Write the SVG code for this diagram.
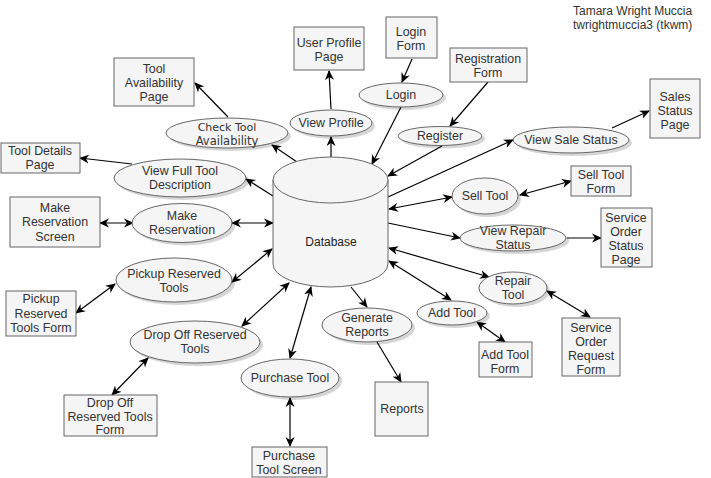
<svg xmlns="http://www.w3.org/2000/svg" width="711" height="478" viewBox="0 0 711 478">
<defs>
<marker id="arr" viewBox="0 0 10 10" refX="9" refY="5" markerWidth="10" markerHeight="10" markerUnits="userSpaceOnUse" orient="auto-start-reverse">
<path d="M0,0.5 L10,5 L0,9.5 L3,5 z" fill="#000"/>
</marker>
</defs>
<style>
.bg{fill:#fff}
.r{fill:#f5f5f5;stroke:#666;stroke-width:1}
.e{fill:#f5f5f5;stroke:#666;stroke-width:1}
.sh{fill:#000;opacity:0.16}
text{font-family:"Liberation Sans",Arial,sans-serif;font-size:12.4px;fill:#333;text-anchor:middle}
.c line{stroke:#000;stroke-width:1.2;marker-end:url(#arr)}
.c line.d{marker-start:url(#arr)}
.t{text-anchor:start;fill:#333;font-size:12px}
</style>
<rect class="bg" x="0" y="0" width="711" height="478"/>

<g id="title">
<text class="t" x="573" y="15">Tamara Wright Muccia</text>
<text class="t" x="573" y="29">twrightmuccia3 (tkwm)</text>
</g>

<g class="c" id="connectors">
<line x1="228" y1="117" x2="195" y2="83"/>
<line x1="132" y1="164" x2="80" y2="158"/>
<line x1="297" y1="162" x2="272" y2="145"/>
<line x1="331" y1="157" x2="331" y2="137"/>
<line x1="331" y1="109" x2="329" y2="71"/>
<line x1="412" y1="59" x2="402" y2="82"/>
<line x1="401" y1="107" x2="372" y2="164"/>
<line x1="488" y1="82" x2="450" y2="126"/>
<line x1="442" y1="146" x2="388" y2="176"/>
<line x1="388" y1="197" x2="513" y2="140"/>
<line x1="612" y1="128" x2="649" y2="111"/>
<line class="d" x1="389" y1="209" x2="452" y2="197"/>
<line class="d" x1="520" y1="195" x2="571" y2="181"/>
<line x1="388" y1="223" x2="460" y2="238"/>
<line x1="567" y1="238" x2="601" y2="238"/>
<line class="d" x1="389" y1="248" x2="489" y2="277"/>
<line class="d" x1="547" y1="291" x2="590" y2="317"/>
<line class="d" x1="389" y1="261" x2="451" y2="300"/>
<line class="d" x1="477" y1="322" x2="505" y2="342"/>
<line x1="351" y1="287" x2="367" y2="307"/>
<line x1="377" y1="342" x2="401" y2="382"/>
<line class="d" x1="290" y1="358" x2="311" y2="287"/>
<line class="d" x1="290" y1="398" x2="290" y2="446"/>
<line class="d" x1="242" y1="326" x2="289" y2="283"/>
<line class="d" x1="148" y1="358" x2="112" y2="395"/>
<line class="d" x1="232" y1="282" x2="272" y2="249"/>
<line class="d" x1="115" y1="284" x2="76" y2="313"/>
<line class="d" x1="232" y1="223" x2="273" y2="223"/>
<line class="d" x1="100" y1="223" x2="133" y2="223"/>
<line x1="273" y1="196" x2="246" y2="179"/>
</g>

<g id="database">
<path d="M273,180 L273,264 A57.5,23 0 0 0 388,264 L388,180" class="e"/>
<ellipse class="e" cx="330.5" cy="180" rx="57.5" ry="23"/>
<text x="331" y="246" style="fill:#222;font-size:12px">Database</text>
</g>

<g id="tool-availability-page"><rect class="r" x="114" y="58" width="80" height="48"/><text x="154" y="73">Tool</text><text x="154" y="87">Availability</text><text x="154" y="101">Page</text></g>
<g id="tool-details-page"><rect class="r" x="1" y="143" width="79" height="30"/><text x="40" y="155">Tool Details</text><text x="40" y="169">Page</text></g>
<g id="user-profile-page"><rect class="r" x="294" y="27" width="70" height="43"/><text x="329" y="47">User Profile</text><text x="329" y="61">Page</text></g>
<g id="login-form"><rect class="r" x="386" y="17" width="51" height="41"/><text x="411" y="36">Login</text><text x="411" y="50">Form</text></g>
<g id="registration-form"><rect class="r" x="450" y="48" width="77" height="34"/><text x="488" y="63">Registration</text><text x="488" y="77">Form</text></g>
<g id="sales-status-page"><rect class="r" x="650" y="79" width="50" height="59"/><text x="675" y="101">Sales</text><text x="675" y="115">Status</text><text x="675" y="129">Page</text></g>
<g id="sell-tool-form"><rect class="r" x="571" y="166" width="60" height="30"/><text x="601" y="179">Sell Tool</text><text x="601" y="193">Form</text></g>
<g id="service-order-status-page"><rect class="r" x="601" y="208" width="51" height="59"/><text x="626" y="222">Service</text><text x="626" y="236">Order</text><text x="626" y="250">Status</text><text x="626" y="264">Page</text></g>
<g id="service-order-request-form"><rect class="r" x="562" y="318" width="58" height="58"/><text x="591" y="332">Service</text><text x="591" y="346">Order</text><text x="591" y="360">Request</text><text x="591" y="374">Form</text></g>
<g id="add-tool-form"><rect class="r" x="479" y="342" width="53" height="35"/><text x="505" y="359">Add Tool</text><text x="505" y="373">Form</text></g>
<g id="make-reservation-screen"><rect class="r" x="10" y="197" width="90" height="50"/><text x="55" y="212">Make</text><text x="55" y="226">Reservation</text><text x="55" y="241">Screen</text></g>
<g id="pickup-reserved-tools-form"><rect class="r" x="6" y="291" width="70" height="45"/><text x="41" y="303">Pickup</text><text x="41" y="318">Reserved</text><text x="41" y="332">Tools Form</text></g>
<g id="drop-off-reserved-tools-form"><rect class="r" x="64" y="395" width="93" height="41"/><text x="110" y="407">Drop Off</text><text x="110" y="421">Reserved Tools</text><text x="110" y="434">Form</text></g>
<g id="purchase-tool-screen"><rect class="r" x="252" y="447" width="75" height="30"/><text x="289" y="460">Purchase</text><text x="289" y="474">Tool Screen</text></g>
<g id="reports"><rect class="r" x="375" y="382" width="53" height="54"/><text x="402" y="413">Reports</text></g>

<g id="check-tool-availability"><ellipse class="sh" cx="230" cy="136" rx="61" ry="15"/><ellipse class="e" cx="227" cy="133" rx="61" ry="15"/><text x="227" y="131" style="font-family:'DejaVu Sans',sans-serif;font-size:11px">Check  Tool</text><text x="227" y="145" style="font-family:'DejaVu Sans',sans-serif;font-size:11.5px">Availability</text></g>
<g id="view-profile"><ellipse class="sh" cx="334" cy="126" rx="41" ry="13"/><ellipse class="e" cx="331" cy="123" rx="41" ry="13"/><text x="331" y="127">View Profile</text></g>
<g id="login"><ellipse class="sh" cx="404" cy="98" rx="42" ry="12"/><ellipse class="e" cx="401" cy="95" rx="42" ry="12"/><text x="401" y="99">Login</text></g>
<g id="register"><ellipse class="sh" cx="443" cy="139" rx="42" ry="9.5"/><ellipse class="e" cx="440" cy="136" rx="42" ry="9.5"/><text x="440" y="140">Register</text></g>
<g id="view-sale-status"><ellipse class="sh" cx="574" cy="143" rx="58" ry="13"/><ellipse class="e" cx="571" cy="140" rx="58" ry="13"/><text x="571" y="144">View Sale Status</text></g>
<g id="view-full-tool-description"><ellipse class="sh" cx="183" cy="181" rx="66" ry="19"/><ellipse class="e" cx="180" cy="178" rx="66" ry="19"/><text x="180" y="175">View Full Tool</text><text x="180" y="189">Description</text></g>
<g id="make-reservation"><ellipse class="sh" cx="185" cy="226" rx="50" ry="19.5"/><ellipse class="e" cx="182" cy="223" rx="50" ry="19.5"/><text x="182" y="220">Make</text><text x="182" y="234">Reservation</text></g>
<g id="pickup-reserved-tools"><ellipse class="sh" cx="177" cy="283" rx="58" ry="22"/><ellipse class="e" cx="174" cy="280" rx="58" ry="22"/><text x="174" y="278">Pickup Reserved</text><text x="174" y="292">Tools</text></g>
<g id="drop-off-reserved-tools"><ellipse class="sh" cx="198" cy="345" rx="65" ry="21"/><ellipse class="e" cx="195" cy="342" rx="65" ry="21"/><text x="195" y="339">Drop Off Reserved</text><text x="195" y="353">Tools</text></g>
<g id="purchase-tool"><ellipse class="sh" cx="293" cy="381" rx="49" ry="19"/><ellipse class="e" cx="290" cy="378" rx="49" ry="19"/><text x="290" y="382">Purchase Tool</text></g>
<g id="generate-reports"><ellipse class="sh" cx="370" cy="328" rx="45" ry="17"/><ellipse class="e" cx="367" cy="325" rx="45" ry="17"/><text x="367" y="322">Generate</text><text x="367" y="336">Reports</text></g>
<g id="add-tool"><ellipse class="sh" cx="455" cy="316" rx="35" ry="12"/><ellipse class="e" cx="452" cy="313" rx="35" ry="12"/><text x="452" y="317">Add Tool</text></g>
<g id="sell-tool"><ellipse class="sh" cx="488" cy="199" rx="33" ry="18"/><ellipse class="e" cx="485" cy="196" rx="33" ry="18"/><text x="485" y="200">Sell Tool</text></g>
<g id="view-repair-status"><ellipse class="sh" cx="516" cy="241" rx="53" ry="13"/><ellipse class="e" cx="513" cy="238" rx="53" ry="13"/><text x="513" y="235">View Repair</text><text x="513" y="249">Status</text></g>
<g id="repair-tool"><ellipse class="sh" cx="516" cy="291" rx="34" ry="16"/><ellipse class="e" cx="513" cy="288" rx="34" ry="16"/><text x="513" y="285">Repair</text><text x="513" y="299">Tool</text></g>
</svg>
